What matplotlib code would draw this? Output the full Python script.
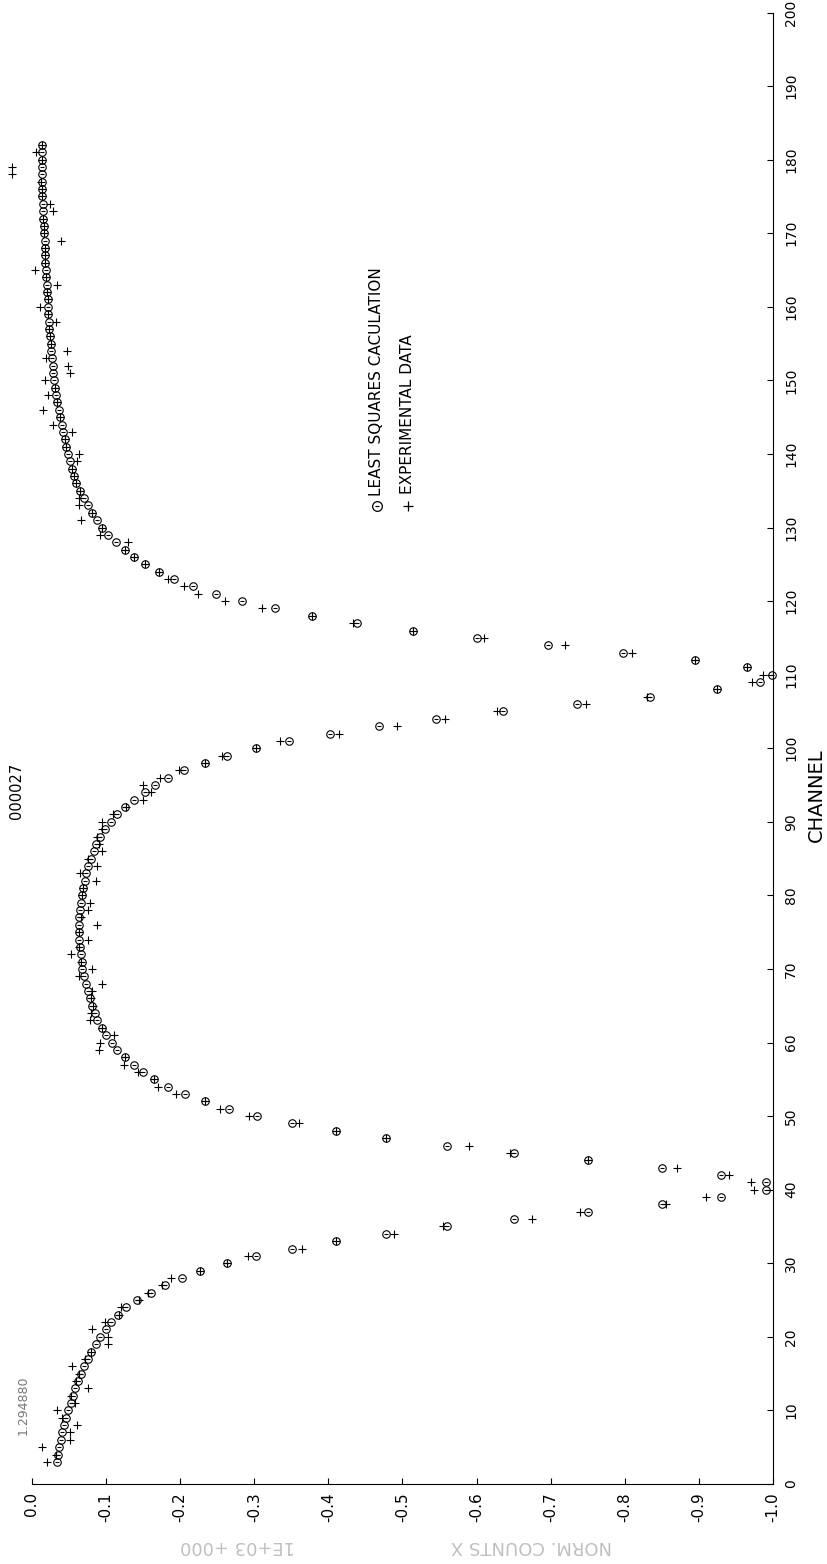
import matplotlib
matplotlib.use("Agg")
import matplotlib.pyplot as plt
from matplotlib.lines import Line2D

# channel numbers of the plotted points (3 .. 182)
channels = list(range(3, 183))

# least squares calculation, normalised counts, one value per channel
fit_counts = [
    -0.034, -0.035, -0.037, -0.039, -0.041, -0.043, -0.046, -0.049, -0.052, -0.055,
    -0.058, -0.062, -0.066, -0.070, -0.075, -0.080, -0.086, -0.092, -0.100, -0.107,
    -0.116, -0.127, -0.142, -0.160, -0.180, -0.202, -0.227, -0.263, -0.302, -0.351,
    -0.410, -0.478, -0.560, -0.650, -0.750, -0.850, -0.930, -0.990, -0.990, -0.930,
    -0.850, -0.750, -0.650, -0.560, -0.478, -0.410, -0.351, -0.304, -0.266, -0.234,
    -0.207, -0.184, -0.165, -0.150, -0.137, -0.126, -0.115, -0.108, -0.100, -0.094,
    -0.088, -0.085, -0.081, -0.078, -0.075, -0.073, -0.070, -0.068, -0.067, -0.066,
    -0.065, -0.064, -0.064, -0.064, -0.064, -0.065, -0.066, -0.067, -0.069, -0.071,
    -0.073, -0.076, -0.079, -0.083, -0.087, -0.092, -0.098, -0.106, -0.115, -0.126,
    -0.138, -0.152, -0.166, -0.184, -0.205, -0.234, -0.263, -0.302, -0.347, -0.402,
    -0.468, -0.545, -0.636, -0.735, -0.834, -0.924, -0.982, -0.999, -0.965, -0.895,
    -0.798, -0.696, -0.600, -0.514, -0.439, -0.378, -0.328, -0.284, -0.248, -0.217,
    -0.191, -0.171, -0.153, -0.138, -0.125, -0.114, -0.103, -0.095, -0.088, -0.081,
    -0.075, -0.070, -0.065, -0.060, -0.057, -0.054, -0.051, -0.048, -0.046, -0.044,
    -0.042, -0.040, -0.038, -0.036, -0.034, -0.033, -0.031, -0.030, -0.029, -0.028,
    -0.027, -0.026, -0.025, -0.024, -0.023, -0.023, -0.022, -0.021, -0.021, -0.020,
    -0.020, -0.019, -0.019, -0.018, -0.018, -0.017, -0.017, -0.016, -0.016, -0.015,
    -0.015, -0.015, -0.014, -0.014, -0.014, -0.013, -0.013, -0.013, -0.013, -0.013,
]

# experimental data, same channels
exp_counts = [
    -0.020, -0.033, -0.013, -0.051, -0.051, -0.061, -0.040, -0.034, -0.058, -0.052,
    -0.076, -0.060, -0.064, -0.054, -0.072, -0.080, -0.103, -0.103, -0.081, -0.099,
    -0.118, -0.120, -0.145, -0.157, -0.176, -0.187, -0.227, -0.263, -0.292, -0.365,
    -0.410, -0.488, -0.555, -0.675, -0.740, -0.855, -0.910, -0.975, -0.970, -0.940,
    -0.870, -0.750, -0.645, -0.590, -0.478, -0.410, -0.360, -0.293, -0.254, -0.234,
    -0.194, -0.170, -0.165, -0.143, -0.124, -0.126, -0.091, -0.092, -0.111, -0.094,
    -0.078, -0.079, -0.082, -0.080, -0.081, -0.094, -0.063, -0.081, -0.066, -0.053,
    -0.064, -0.075, -0.064, -0.088, -0.066, -0.076, -0.078, -0.067, -0.069, -0.086,
    -0.065, -0.088, -0.076, -0.094, -0.090, -0.088, -0.094, -0.094, -0.109, -0.127,
    -0.150, -0.160, -0.150, -0.173, -0.198, -0.234, -0.257, -0.302, -0.335, -0.414,
    -0.493, -0.557, -0.627, -0.747, -0.830, -0.924, -0.972, -0.987, -0.965, -0.895,
    -0.810, -0.719, -0.610, -0.514, -0.433, -0.378, -0.310, -0.261, -0.224, -0.205,
    -0.184, -0.171, -0.153, -0.138, -0.125, -0.129, -0.092, -0.095, -0.066, -0.081,
    -0.063, -0.063, -0.065, -0.060, -0.057, -0.054, -0.061, -0.064, -0.046, -0.044,
    -0.054, -0.028, -0.038, -0.015, -0.034, -0.022, -0.031, -0.018, -0.051, -0.049,
    -0.019, -0.047, -0.025, -0.024, -0.023, -0.033, -0.022, -0.011, -0.021, -0.020,
    -0.034, -0.019, -0.004, -0.018, -0.018, -0.017, -0.039, -0.016, -0.016, -0.015,
    -0.029, -0.024, -0.014, -0.014, -0.012, 0.027, 0.027, -0.013, -0.005, -0.013,
]

count_ticks = [0.0, -0.1, -0.2, -0.3, -0.4, -0.5, -0.6, -0.7, -0.8, -0.9, -1.0]
count_labels = ['0.0', '-0.1', '-0.2', '-0.3', '-0.4', '-0.5',
                '-0.6', '-0.7', '-0.8', '-0.9', '-1.0']
channel_ticks = [0, 10, 20, 30, 40, 50, 60, 70, 80, 90, 100,
                 110, 120, 130, 140, 150, 160, 170, 180, 190, 200]

# the plotter sheet is turned a quarter turn: channel runs up, counts run right
fig = plt.figure(figsize=(8.28, 15.64), dpi=100)
W, H = 828.0, 1564.0
ax = fig.add_axes([32 / W, 1 - 1484 / H, (773 - 32) / W, (1484 - 12.5) / H])

ax.plot(fit_counts, channels, ls='none', marker='o', ms=5.4, mfc='none',
        mec='black', mew=0.8, clip_on=False)
ax.plot(fit_counts, channels, ls='none', marker='_', ms=2.6, color='black',
        mew=0.8, clip_on=False)
ax.plot(exp_counts, channels, ls='none', marker='+', ms=5.2, color='black',
        mew=0.8, clip_on=False)

ax.set_xlim(0, -1.0)
ax.set_ylim(0, 200)
ax.spines['top'].set_visible(False)
ax.spines['left'].set_visible(False)
ax.spines['bottom'].set_linewidth(0.8)
ax.spines['right'].set_linewidth(0.8)

ax.set_xticks(count_ticks)
ax.set_xticklabels(count_labels, rotation=90, fontsize=11)
ax.tick_params(axis='x', direction='in', length=4, width=0.8, pad=6)

ax.yaxis.tick_right()
ax.set_yticks(channel_ticks)
ax.set_yticklabels([str(c) for c in channel_ticks], rotation=90, va='center',
                   fontsize=10)
ax.tick_params(axis='y', direction='in', length=4, width=0.8, pad=8)

# axis titles
fig.text(816 / W, 1 - 795 / H, 'CHANNEL', rotation=90, ha='center', va='center',
         fontsize=14)
fig.text(531 / W, 1 - 1546 / H, 'NORM. COUNTS X', rotation=180, ha='center',
         va='center', fontsize=13, color='#c0c0c0')
fig.text(238 / W, 1 - 1546 / H, '1E+03 +000', rotation=180, ha='center',
         va='center', fontsize=13, color='#c0c0c0')

# run identifiers written by the plotter
fig.text(17 / W, 1 - 791 / H, '000027', rotation=90, ha='center', va='center',
         fontsize=10.5)
fig.text(23 / W, 1 - 1405 / H, '1.294880', rotation=90, ha='center', va='center',
         fontsize=9, color='#777777')

# legend, drawn by hand like the plotter did
fig.add_artist(Line2D([377 / W], [1 - 506 / H], ls='none', marker='o', ms=7,
                      mfc='none', mec='black', mew=0.9))
fig.add_artist(Line2D([377 / W], [1 - 506 / H], ls='none', marker='_', ms=3.5,
                      color='black', mew=0.9))
fig.add_artist(Line2D([408 / W], [1 - 506 / H], ls='none', marker='+', ms=7,
                      color='black', mew=0.9))
fig.text(377 / W, 1 - 496 / H, 'LEAST SQUARES CACULATION', rotation=90,
         ha='center', va='bottom', fontsize=11)
fig.text(408 / W, 1 - 494 / H, 'EXPERIMENTAL DATA', rotation=90,
         ha='center', va='bottom', fontsize=11)

fig.savefig('out.png', dpi=100)
